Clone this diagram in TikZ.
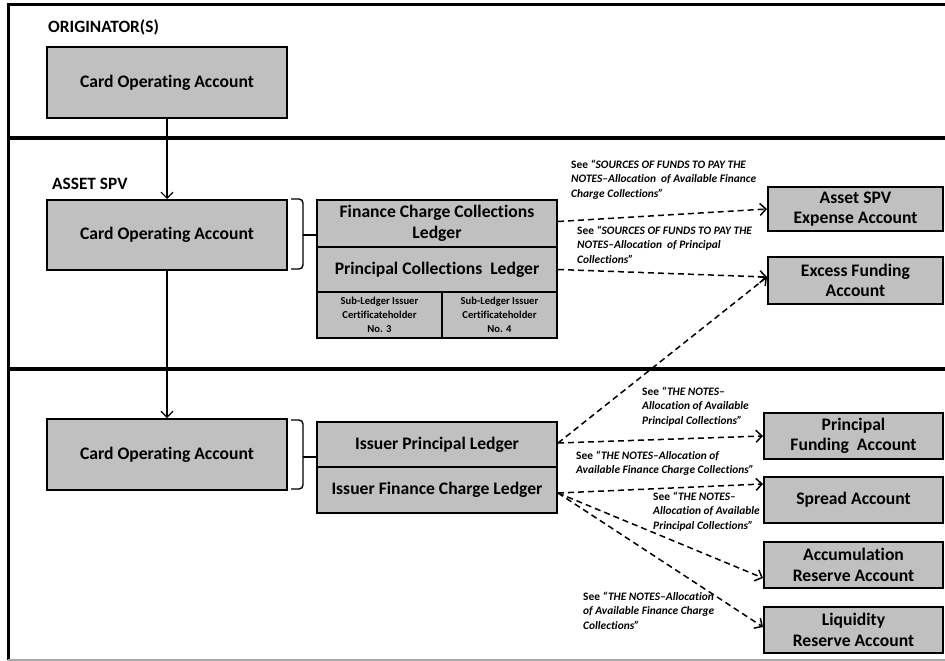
\documentclass[tikz,border=0pt]{standalone}
\usepackage{fontspec}
\setmainfont[Ligatures={NoCommon}]{Carlito}
\usetikzlibrary{arrows.meta,calc}
\definecolor{boxgray}{RGB}{192,192,192}
\definecolor{framegray}{RGB}{170,170,170}
\begin{document}
\begin{tikzpicture}[x=1pt,y=-1pt,
  acct/.style={draw=black, line width=2pt, fill=boxgray, inner sep=0pt, align=center,
    font=\bfseries\fontsize{17.6}{20.5}\selectfont},
  subacct/.style={acct, font=\bfseries\fontsize{10.6}{14}\selectfont},
  head/.style={anchor=base west, inner sep=0pt, font=\bfseries\fontsize{17.3}{20}\selectfont},
  lbl/.style={anchor=north west, inner sep=0pt, align=left,
    font=\bfseries\fontsize{11.4}{14.2}\selectfont},
  conn/.style={line width=1.2pt, -{Straight Barb[length=6pt,width=12pt,line width=1.2pt]}},
  dconn/.style={line width=1.5pt, dash pattern=on 6pt off 4pt,
    -{Straight Barb[length=6pt,width=12pt,line width=1.5pt]}},
  brace/.style={line width=1.4pt, rounded corners=4pt},
  sep/.style={line width=4pt},
]
\useasboundingbox (0,0) rectangle (945,661);
% frame
\draw[line width=3pt] (8,660) -- (8,5) -- (945,5);
\draw[framegray, line width=1.5pt] (8,660) -- (945,660);
\draw[sep] (8,138) -- (945,138);
\draw[sep] (8,369) -- (945,369);

% headers
\node[head] (hOrig) at (48,33) {ORIGINATOR(S)};
\node[head] (hSpv) at (52,189) {ASSET SPV};

% card operating accounts
\node[acct, minimum width=240pt, minimum height=71pt] (orig) at (167,82.5) {Card Operating Account};
\node[acct, minimum width=240pt, minimum height=70pt] (spv) at (167,235) {Card Operating Account};
\node[acct, minimum width=240pt, minimum height=71pt] (iss) at (167,454.5) {Card Operating Account};

% asset spv ledgers
\node[acct, minimum width=240pt, minimum height=47pt] (fcc) at (437,223.5) {Finance Charge Collections\\Ledger};
\node[acct, minimum width=240pt, minimum height=45pt] (pcl) at (437,269.5) {Principal Collections\ \ Ledger};
\node[subacct, minimum width=125pt, minimum height=46pt] (sub3) at (379.5,315) {Sub-Ledger Issuer\\Certificateholder\\No. 3};
\node[subacct, minimum width=115pt, minimum height=46pt] (sub4) at (499.5,315) {Sub-Ledger Issuer\\Certificateholder\\No. 4};

% issuer ledgers
\node[acct, minimum width=240pt, minimum height=45pt] (ipl) at (437,444.5) {Issuer Principal Ledger};
\node[acct, minimum width=240pt, minimum height=46pt] (ifc) at (437,490) {Issuer Finance Charge Ledger};

% right accounts
\node[acct, minimum width=175pt, minimum height=44pt] (ase) at (855.5,209) {Asset SPV\\Expense Account};
\node[acct, minimum width=175pt, minimum height=47pt] (ef) at (855.5,280.5) {Excess Funding\\Account};
\node[acct, minimum width=179pt, minimum height=46pt] (pfa) at (853.5,436) {Principal\\Funding\ \ Account};
\node[acct, minimum width=179pt, minimum height=46pt] (spr) at (853.5,500) {Spread Account};
\node[acct, minimum width=179pt, minimum height=46pt] (acc) at (853.5,565) {Accumulation\\Reserve Account};
\node[acct, minimum width=179pt, minimum height=46pt] (liq) at (853.5,630) {Liquidity\\Reserve Account};

% braces
\draw[brace] (spv.north east) ++(3,0) -- ++(12,0) -- ++(0,70) -- ++(-12,0);
\draw[line width=1.4pt] ($(spv.east)+(15,0)$) -- (spv.east -| fcc.west);
\draw[brace] (iss.north east) ++(3,2) -- ++(12,0) -- ++(0,69) -- ++(-12,0);
\draw[line width=1.4pt] ($(iss.east)+(15,2.5)$) -- ($(iss.east -| ipl.west)+(0,2.5)$);

% solid connectors
\draw[conn] (orig.south) -- (spv.north);
\draw[conn] (spv.south) -- (iss.north);

% dashed connectors
\draw[dconn] ([yshift=2pt]fcc.east) -- (ase.west);
\draw[dconn] (pcl.east) -- ([yshift=3.5pt]ef.west);
\draw[dconn] ([yshift=1.5pt]ipl.east) -- ([yshift=3.5pt]ef.west);
\draw[dconn] ([yshift=1.5pt]ipl.east) -- (pfa.west);
\draw[dconn] ([yshift=-3pt]ifc.east) -- ([yshift=16pt]spr.west);
\draw[dconn] ([yshift=-3pt]ifc.east) -- ([yshift=-13pt]acc.west);
\draw[dconn] ([yshift=-3pt]ifc.east) -- ([yshift=3pt]liq.west);

% labels
\node[lbl] (l1) at (571,160) {See \textit{“SOURCES OF FUNDS TO PAY THE}\\\textit{NOTES–Allocation\ \ of Available Finance}\\\textit{Charge Collections”}};
\node[lbl] (l2) at (577,226) {See \textit{“SOURCES OF FUNDS TO PAY THE}\\\textit{NOTES–Allocation\ \ of Principal}\\\textit{Collections”}};
\node[lbl] (l3) at (642,387) {See \textit{“THE NOTES–}\\\textit{Allocation of Available}\\\textit{Principal Collections”}};
\node[lbl] (l4) at (576,451) {See \textit{“THE NOTES–Allocation of}\\\textit{Available Finance Charge Collections”}};
\node[lbl] (l5) at (653,492) {See \textit{“THE NOTES–}\\\textit{Allocation of Available}\\\textit{Principal Collections”}};
\node[lbl] (l6) at (583,592) {See \textit{“THE NOTES–Allocation}\\\textit{of Available Finance Charge}\\\textit{Collections”}};
\end{tikzpicture}
\end{document}
